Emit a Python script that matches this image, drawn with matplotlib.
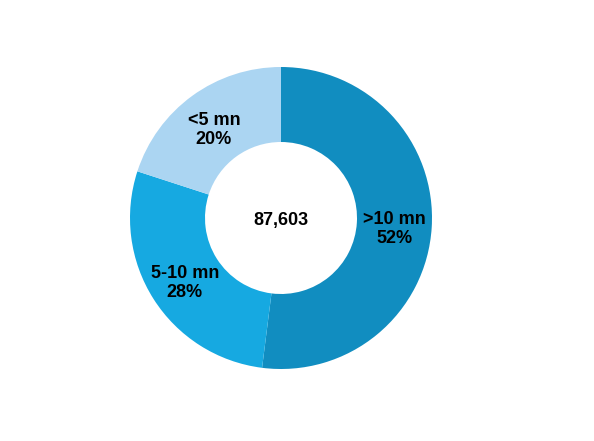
import matplotlib
matplotlib.use("Agg")
import matplotlib.pyplot as plt
import numpy as np

categories = [">10 mn", "5-10 mn", "<5 mn"]
values = [52, 28, 20]
colors = ["#118DC0", "#16A9E1", "#ABD5F2"]
total_label = "87,603"

plt.rcParams['font.family'] = ['Liberation Sans', 'DejaVu Sans']

fig = plt.figure(figsize=(5.94, 4.41), dpi=100)
ax = fig.add_axes([0, 0, 1, 1])

cx, cy = 281, 441 - 218
R = 151
wedges, _ = ax.pie(values, colors=colors, startangle=90, counterclock=False,
                   radius=R, center=(cx, cy), frame=True,
                   wedgeprops=dict(width=75, edgecolor='none', linewidth=0))
ax.set_xlim(0, 594)
ax.set_ylim(0, 441)
ax.set_aspect('equal')
ax.axis('off')

for w, cat, v in zip(wedges, categories, values):
    ang = np.deg2rad((w.theta1 + w.theta2) / 2)
    r = 0.755 * R
    ax.text(cx + r * np.cos(ang), cy + r * np.sin(ang) - 4, f"{cat}\n{v}%",
            ha='center', va='center', fontsize=13, fontweight='bold',
            linespacing=1.12)

ax.text(cx, cy - 2, total_label, ha='center', va='center', fontsize=13, fontweight='bold')

fig.savefig("out.png", dpi=100)
